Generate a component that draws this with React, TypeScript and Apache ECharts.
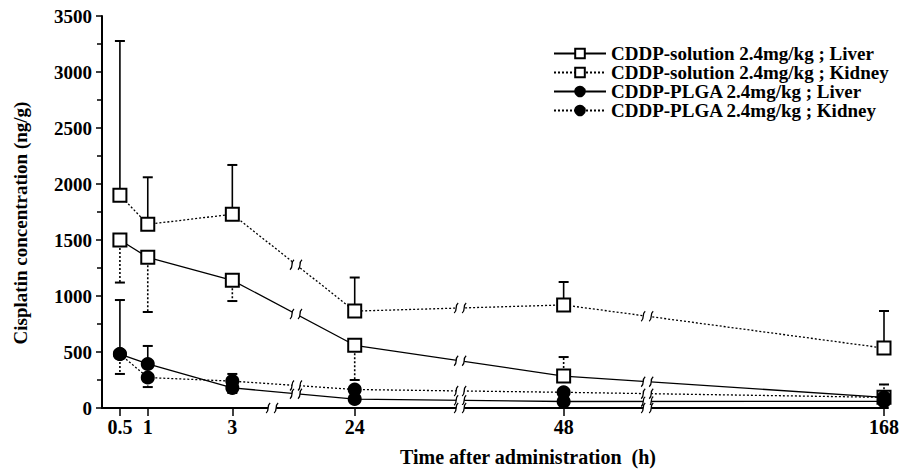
import React, { useEffect, useRef } from "react";
import * as echarts from "echarts";

const timeLabels = ["0.5", "1", "3", "24", "48", "168"];
// broken (non-linear) time scale: axis units assigned to each sampling time
const brokenScale = [18, 46, 131, 254, 464, 786];
const axisBreakUnits = [171, 360, 548];
const lineBreakUnits = [195, 360, 548];

const seriesNames = [
  "CDDP-solution 2.4mg/kg ; Liver",
  "CDDP-solution 2.4mg/kg ; Kidney",
  "CDDP-PLGA 2.4mg/kg ; Liver",
  "CDDP-PLGA 2.4mg/kg ; Kidney",
];
const solutionLiver = [1500, 1345, 1140, 560, 285, 95];
const solutionKidney = [1900, 1640, 1730, 865, 920, 535];
const plgaLiver = [482, 393, 180, 80, 58, 60];
const plgaKidney = [482, 272, 240, 165, 140, 95];

// error bar end values (null = not visible)
const solutionLiverErr = [1120, 857, 955, 250, 455, null];
const solutionKidneyErr = [3277, 2060, 2170, 1165, 1125, 866];
const plgaLiverErr = [964, 554, 134, null, null, null];
const plgaKidneyErr = [304, 187, 304, null, null, 210];

const yTicks = { min: 0, max: 3500, interval: 500 };

const FONT = '"Liberation Serif", "Times New Roman", serif';

function toXY(vals: number[]) {
  return vals.map((v, i) => [brokenScale[i], v]);
}
function errData(vals: number[], errs: (number | null)[]) {
  const out: number[][] = [];
  errs.forEach((e, i) => {
    if (e !== null) out.push([brokenScale[i], vals[i], e]);
  });
  return out;
}
function breakData(vals: number[]) {
  return lineBreakUnits.map((b) => {
    let i = 0;
    while (i < brokenScale.length - 2 && brokenScale[i + 1] < b) i++;
    const t = (b - brokenScale[i]) / (brokenScale[i + 1] - brokenScale[i]);
    return [b, vals[i] + (vals[i + 1] - vals[i]) * t];
  });
}

export default function App() {
  const ref = useRef<HTMLDivElement>(null);
  useEffect(() => {
    if (!ref.current) return;
    const chart = echarts.init(ref.current, null, { renderer: "svg" });

    const errRender = (dash: any) => (params: any, api: any) => {
      const x = api.value(0);
      const p1 = api.coord([x, api.value(1)]);
      const p2 = api.coord([x, api.value(2)]);
      return {
        type: "group",
        children: [
          {
            type: "line",
            shape: { x1: p1[0], y1: p1[1], x2: p2[0], y2: p2[1] },
            style: { stroke: "#000", lineWidth: 1.6, lineDash: dash },
          },
          {
            type: "line",
            shape: { x1: p2[0] - 5, y1: p2[1], x2: p2[0] + 5, y2: p2[1] },
            style: { stroke: "#000", lineWidth: 2 },
          },
        ],
      };
    };

    const breakRender = (h: number) => (params: any, api: any) => {
      const c = api.coord([api.value(0), api.value(1)]);
      const cx = c[0];
      const cy = c[1];
      const mk = (dx: number) => ({
        type: "bezierCurve",
        shape: {
          x1: cx + dx - 2, y1: cy + h,
          cpx1: cx + dx + 2, cpy1: cy + h / 3,
          cpx2: cx + dx - 2, cpy2: cy - h / 3,
          x2: cx + dx + 2, y2: cy - h,
        },
        style: { stroke: "#000", lineWidth: 1.3, fill: null },
      });
      return {
        type: "group",
        children: [
          { type: "rect", shape: { x: cx - 4, y: cy - 3, width: 8, height: 6 }, style: { fill: "#fff" } },
          mk(-4),
          mk(4),
        ],
      };
    };

    const mainSeries = [
      { name: seriesNames[0], vals: solutionLiver, symbol: "rect", fill: "#fff", dash: "solid", size: 13 },
      { name: seriesNames[1], vals: solutionKidney, symbol: "rect", fill: "#fff", dash: [2, 2], size: 13 },
      { name: seriesNames[2], vals: plgaLiver, symbol: "circle", fill: "#000", dash: "solid", size: 12 },
      { name: seriesNames[3], vals: plgaKidney, symbol: "circle", fill: "#000", dash: [2, 2], size: 12 },
    ];
    const errs = [
      { vals: solutionLiver, e: solutionLiverErr, dash: [2, 2] },
      { vals: solutionKidney, e: solutionKidneyErr, dash: null },
      { vals: plgaLiver, e: plgaLiverErr, dash: null },
      { vals: plgaKidney, e: plgaKidneyErr, dash: [2, 2] },
    ];

    const series: any[] = [];
    errs.forEach((s, k) => {
      series.push({
        type: "custom",
        name: "err" + k,
        renderItem: errRender(s.dash),
        data: errData(s.vals, s.e),
        encode: { x: 0, y: [1, 2] },
        z: 1,
        silent: true,
      });
    });
    mainSeries.forEach((s) => {
      series.push({
        type: "line",
        name: s.name,
        data: toXY(s.vals),
        symbol: s.symbol,
        symbolSize: s.size,
        showSymbol: true,
        itemStyle: { color: s.fill, borderColor: "#000", borderWidth: 2 },
        lineStyle: { color: "#000", width: 1.3, type: s.dash },
        z: 3,
      });
    });
    mainSeries.forEach((s, k) => {
      series.push({
        type: "custom",
        name: "brk" + k,
        renderItem: breakRender(5),
        data: breakData(s.vals),
        encode: { x: 0, y: 1 },
        z: 4,
        clip: false,
        silent: true,
      });
    });
    series.push({
      type: "custom",
      name: "axisbrk",
      renderItem: breakRender(5),
      data: axisBreakUnits.map((b) => [b, 0]),
      encode: { x: 0, y: 1 },
      z: 5,
      clip: false,
      silent: true,
    });

    chart.setOption({
      animation: false,
      backgroundColor: "#fff",
      grid: { left: 102, right: 10, top: 16, bottom: 61, containLabel: false },
      legend: {
        data: seriesNames,
        orient: "vertical",
        left: 548,
        top: 39,
        itemWidth: 52,
        itemHeight: 12,
        itemGap: 0,
        textStyle: { fontFamily: FONT, fontWeight: "bold", fontSize: 19, color: "#000" },
      },
      xAxis: {
        type: "value",
        min: 0,
        max: 790,
        axisLine: { show: true, onZero: false, lineStyle: { color: "#000", width: 2 } },
        axisTick: { show: true, customValues: brokenScale, length: 8, lineStyle: { color: "#000", width: 1.5 } },
        axisLabel: {
          customValues: brokenScale,
          formatter: (v: number) => {
            const i = brokenScale.indexOf(v);
            return i >= 0 ? timeLabels[i] : "";
          },
          color: "#000",
          fontFamily: FONT,
          fontWeight: "bold",
          fontSize: 20,
          margin: 9,
        },
        splitLine: { show: false },
      },
      yAxis: {
        type: "value",
        min: yTicks.min,
        max: yTicks.max,
        interval: yTicks.interval,
        axisLine: { show: true, lineStyle: { color: "#000", width: 2 } },
        axisTick: { show: true, length: 6, lineStyle: { color: "#000", width: 1.5 } },
        minorTick: { show: true, splitNumber: 2, length: 5, lineStyle: { color: "#000", width: 1.5 } },
        splitLine: { show: false },
        axisLabel: {
          color: "#000",
          fontFamily: FONT,
          fontWeight: "bold",
          fontSize: 19,
          margin: 10,
          formatter: (v: number) => String(v),
        },
      },
      graphic: [
        {
          type: "text",
          x: 20,
          y: 223,
          rotation: Math.PI / 2,
          style: {
            text: "Cisplatin concentration (ng/g)",
            fontFamily: FONT,
            fontWeight: "bold",
            fontSize: 19,
            fill: "#000",
            textAlign: "center",
            textVerticalAlign: "middle",
          },
        },
        {
          type: "text",
          x: 528,
          y: 457,
          style: {
            text: "Time after administration  (h)",
            fontFamily: FONT,
            fontWeight: "bold",
            fontSize: 20,
            fill: "#000",
            textAlign: "center",
            textVerticalAlign: "middle",
          },
        },
      ],
      series,
    });
    return () => chart.dispose();
  }, []);
  return (
    <div
      ref={ref}
      style={{ position: "fixed", left: 0, top: 0, width: 902, height: 469, background: "#fff" }}
    />
  );
}
